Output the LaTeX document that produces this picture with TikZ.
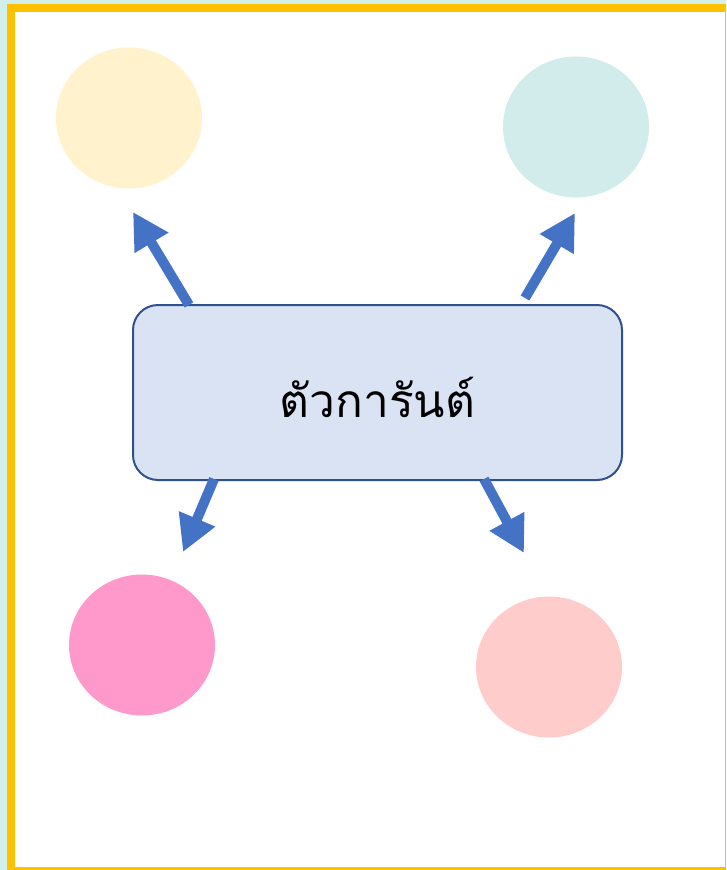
\documentclass[tikz,border=0pt]{standalone}
\usepackage{fontspec}
\newfontfamily\thaifont[Script=Thai]{Loma}
\usetikzlibrary{arrows.meta,calc,shapes.geometric}
\definecolor{bgcyan}{HTML}{D3EFEC}
\definecolor{frameyellow}{HTML}{FFC000}
\definecolor{cyellow}{HTML}{FFF2CC}
\definecolor{ccyan}{HTML}{D2ECEC}
\definecolor{cpink}{HTML}{FF99CC}
\definecolor{clpink}{HTML}{FFCCCC}
\definecolor{boxfill}{HTML}{DAE3F3}
\definecolor{boxline}{HTML}{2F528F}
\definecolor{arrowblue}{HTML}{4472C4}
\tikzset{
  blob/.style={ellipse, draw=none, minimum width=146pt, minimum height=141pt, inner sep=0pt},
  bigarrow/.style={draw=arrowblue, line width=10pt, -{Triangle[length=36pt,width=37pt]}},
}
\begin{document}
\begin{tikzpicture}[x=1pt,y=-1pt]
\useasboundingbox (0,0) rectangle (726,870);
\fill[bgcyan] (0,0) rectangle (726,870);
\fill[frameyellow] (7,4) rectangle (726,870);
\fill[white] (15,12) rectangle (725,867);
\node[blob, fill=cyellow] (c1) at (129,118) {};
\node[blob, fill=ccyan] (c2) at (576,127) {};
\node[blob, fill=cpink] (c3) at (142,645) {};
\node[blob, fill=clpink] (c4) at (549,667) {};
\node[draw=boxline, line width=2pt, fill=boxfill, rounded corners=25pt,
      minimum width=489pt, minimum height=175pt, inner sep=0pt] (box) at (377.5,392.5) {};
\node[inner sep=0pt] (label) at (377.5,397) {\fontsize{46}{50}\selectfont\thaifont ตัวการันต์};
\coordinate (t1) at (133,212);
\coordinate (t2) at (575,213);
\coordinate (t3) at (183,552);
\coordinate (t4) at (524,553);
\draw[bigarrow] ($(box.north west)+(57,1)$) -- (t1);
\draw[bigarrow] ($(box.north west)+(393,-6)$) -- (t2);
\draw[bigarrow] ($(box.south west)+(82,-2)$) -- (t3);
\draw[bigarrow] ($(box.south west)+(352,-2)$) -- (t4);
\end{tikzpicture}
\end{document}
